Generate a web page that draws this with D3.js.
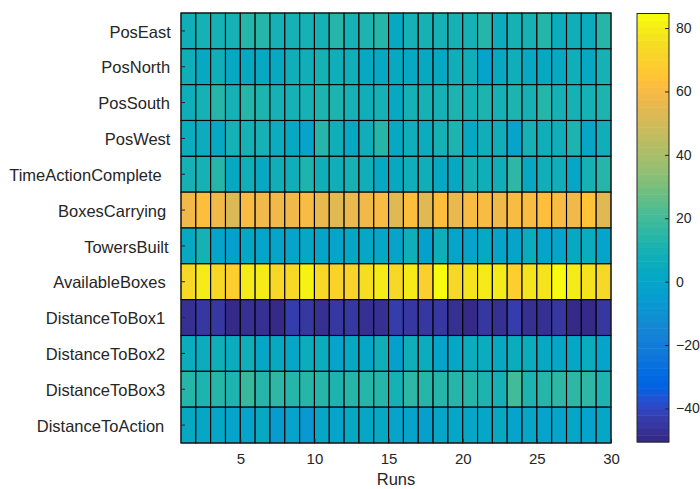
<!DOCTYPE html>
<html>
<head>
<meta charset="utf-8">
<script src="https://cdn.jsdelivr.net/npm/d3@7"></script>
<style>
  html, body { margin: 0; padding: 0; background: #fff; }
  svg { display: block; font-family: "Liberation Sans", Arial, Helvetica, sans-serif; }
</style>
</head>
<body>
<svg id="chart" width="700" height="489"></svg>
<script>
// Feature names, top to bottom
const features = ["PosEast", "PosNorth", "PosSouth", "PosWest", "TimeActionComplete",
  "BoxesCarrying", "TowersBuilt", "AvailableBoxes", "DistanceToBox1",
  "DistanceToBox2", "DistanceToBox3", "DistanceToAction"];

// Per-run values for each feature (29 cells spanning runs 1..30)
const posEast = [8, 10, 9, 10, 14, 13, 10, 10, 10, 10, 13, 10, 11, 14, 4, 10, 10, 9, 10, 10, 13, 6, 10, 10, 14, 6, 8, 6, 13];
const posNorth = [8, 4, 7, 3, 3, 4, 3, 7, 7, 10, 7, 8, 4, 4, 4, 3, 4, 3, 7, 8, 0, 4, 7, 4, 3, 4, 7, 3, 9];
const posSouth = [8, 10, 13, 10, 13, 12, 10, 10, 10, 12, 12, 9, 8, 10, 4, 10, 10, 9, 12, 10, 12, 9, 12, 10, 13, 9, 10, 9, 12];
const posWest = [5, 5, 4, 10, 10, 9, 5, 4, 0, 13, 7, 4, 8, 13, 4, 7, 5, 10, 12, 4, 7, 7, 0, 9, 7, 8, 12, 1, 8];
const timeActionComplete = [10, 9, 14, 3, 8, 4, 8, 8, 11, 7, 7, 9, 8, 4, 4, 7, 8, 3, 4, 10, 7, 8, 15, 3, 7, 7, 1, 10, 13];
const boxesCarrying = [58, 63, 58, 52, 60, 58, 58, 58, 60, 57, 54, 57, 58, 60, 54, 63, 53, 63, 57, 60, 60, 59, 60, 60, 62, 61, 59, 65, 53];
const towersBuilt = [3, 9, -1, -3, 2, 0, -1, -1, 1, -1, -1, 2, 2, 2, -1, 7, -3, 7, -1, 0, 3, 0, -1, 5, -1, 0, 3, 5, -1];
const availableBoxes = [74, 79, 74, 69, 79, 79, 74, 74, 82, 74, 70, 71, 76, 79, 74, 80, 69, 84, 74, 77, 79, 79, 69, 77, 78, 83, 79, 77, 74];
const distanceToBox1 = [-47, -46, -46, -49.5, -47, -47, -50, -43, -46, -47, -45, -45, -47, -47, -43, -46, -45, -46, -47, -50, -46, -47, -43, -47, -47, -46, -49, -49, -45];
const distanceToBox2 = [6, 6, 7, 6, 7, 2, 4, 2, 5, 5, 0, 3, 2, 7, -3, 7, 5, 0, 2, 5, 5, 4, 5, 5, 3, 1, 1, 6, 0];
const distanceToBox3 = [13, 12, 13, 11, 19, 13, 15, 14, 14, 13, 12, 13, 14, 13, 9, 15, 14, 13, 13, 14, 11, 10, 20, 12, 14, 15, 16, 16, 12];
const distanceToAction = [3, 2, 2, -1, -1, 3, -6, 0, -8, 1, 0, 3, 2, 3, -2, -2, -3, 2, 2, 2, 2, 3, -1, 2, 0, 0, 2, -2, 2];

const rows = [posEast, posNorth, posSouth, posWest, timeActionComplete, boxesCarrying,
  towersBuilt, availableBoxes, distanceToBox1, distanceToBox2, distanceToBox3, distanceToAction];

const xTicks = [5, 10, 15, 20, 25, 30];
const colorTicks = [-40, -20, 0, 20, 40, 60, 80];
const colorLimits = [-50.6, 84.6];

// 64-step parula colormap
const parula = [
  [0.2081,0.1663,0.5292],[0.2116,0.1898,0.5777],[0.2123,0.2138,0.6270],[0.2081,0.2386,0.6771],
  [0.1959,0.2645,0.7279],[0.1707,0.2919,0.7792],[0.1253,0.3242,0.8303],[0.0591,0.3598,0.8683],
  [0.0117,0.3875,0.8820],[0.0060,0.4086,0.8828],[0.0165,0.4266,0.8786],[0.0329,0.4430,0.8720],
  [0.0498,0.4586,0.8641],[0.0629,0.4737,0.8554],[0.0723,0.4887,0.8467],[0.0779,0.5040,0.8384],
  [0.0793,0.5200,0.8312],[0.0749,0.5375,0.8263],[0.0641,0.5570,0.8240],[0.0488,0.5772,0.8228],
  [0.0343,0.5966,0.8199],[0.0265,0.6137,0.8135],[0.0239,0.6287,0.8038],[0.0231,0.6418,0.7913],
  [0.0228,0.6535,0.7768],[0.0267,0.6642,0.7607],[0.0384,0.6743,0.7436],[0.0590,0.6838,0.7254],
  [0.0843,0.6928,0.7062],[0.1133,0.7015,0.6859],[0.1453,0.7098,0.6646],[0.1801,0.7177,0.6424],
  [0.2178,0.7250,0.6193],[0.2586,0.7317,0.5954],[0.3022,0.7376,0.5712],[0.3482,0.7424,0.5473],
  [0.3953,0.7459,0.5244],[0.4420,0.7481,0.5033],[0.4871,0.7491,0.4840],[0.5300,0.7491,0.4661],
  [0.5709,0.7485,0.4494],[0.6099,0.7473,0.4337],[0.6473,0.7456,0.4188],[0.6834,0.7435,0.4044],
  [0.7184,0.7411,0.3905],[0.7525,0.7384,0.3768],[0.7858,0.7356,0.3633],[0.8185,0.7327,0.3498],
  [0.8507,0.7299,0.3360],[0.8824,0.7274,0.3217],[0.9139,0.7258,0.3063],[0.9450,0.7261,0.2886],
  [0.9739,0.7314,0.2666],[0.9938,0.7455,0.2403],[0.9990,0.7653,0.2164],[0.9955,0.7861,0.1967],
  [0.9880,0.8066,0.1794],[0.9789,0.8271,0.1633],[0.9697,0.8481,0.1475],[0.9626,0.8705,0.1309],
  [0.9589,0.8949,0.1132],[0.9598,0.9218,0.0948],[0.9661,0.9514,0.0755],[0.9763,0.9831,0.0538]
].map(c => d3.rgb(c[0] * 255, c[1] * 255, c[2] * 255).formatHex());

const ink = "#262626";
const svg = d3.select("#chart");

const plot = { left: 181, right: 611, top: 13, bottom: 443 };

const x = d3.scaleLinear().domain([1, 30]).range([plot.left, plot.right]);
const y = d3.scaleBand().domain(features).range([plot.top, plot.bottom]);
const color = d3.scaleQuantize().domain(colorLimits).range(parula);

// Heatmap cells
const cells = [];
rows.forEach((vals, r) => vals.forEach((v, c) => cells.push({ feature: features[r], run: c + 1, value: v })));

svg.append("g").selectAll("rect")
  .data(cells)
  .join("rect")
  .attr("x", d => x(d.run))
  .attr("y", d => y(d.feature))
  .attr("width", d => x(d.run + 1) - x(d.run))
  .attr("height", y.bandwidth())
  .attr("fill", d => color(d.value))
  .attr("stroke", "#000")
  .attr("stroke-width", 1.1);

// Axes box
svg.append("rect")
  .attr("x", plot.left).attr("y", plot.top)
  .attr("width", plot.right - plot.left).attr("height", plot.bottom - plot.top)
  .attr("fill", "none").attr("stroke", ink).attr("stroke-width", 1);

// Y axis (feature names); long names get pushed a little further left
const yAxis = svg.append("g")
  .attr("transform", `translate(${plot.left},0)`)
  .call(d3.axisLeft(y).tickSize(-4).tickPadding(4));
yAxis.select(".domain").remove();
yAxis.selectAll("line").attr("stroke", ink);
yAxis.selectAll("text")
  .attr("fill", ink)
  .style("font-size", "16.5px")
  .attr("text-anchor", "start")
  .attr("dy", "0.4em")
  .attr("x", function () {
    const w = this.getComputedTextLength();
    return -4 - w * 1.1;
  });

// X axis (runs)
const xAxis = svg.append("g")
  .attr("transform", `translate(0,${plot.bottom})`)
  .call(d3.axisBottom(x).tickValues(xTicks).tickSize(-4).tickPadding(10));
xAxis.select(".domain").remove();
xAxis.selectAll("line").attr("stroke", ink);
xAxis.selectAll("text")
  .attr("fill", ink)
  .style("font-size", "15px");

svg.append("text")
  .attr("x", (plot.left + plot.right) / 2)
  .attr("y", 485)
  .attr("text-anchor", "middle")
  .attr("fill", ink)
  .style("font-size", "16.5px")
  .text("Runs");

// Colorbar
const cb = { left: 637, right: 669, top: 13.5, bottom: 442 };
const cy = d3.scaleLinear().domain(colorLimits).range([cb.bottom, cb.top]);
const step = (colorLimits[1] - colorLimits[0]) / parula.length;

svg.append("g").selectAll("rect")
  .data(parula)
  .join("rect")
  .attr("x", cb.left)
  .attr("width", cb.right - cb.left)
  .attr("y", (d, i) => cy(colorLimits[0] + (i + 1) * step))
  .attr("height", (d, i) => cy(colorLimits[0] + i * step) - cy(colorLimits[0] + (i + 1) * step) + 0.5)
  .attr("fill", d => d);

svg.append("rect")
  .attr("x", cb.left).attr("y", cb.top)
  .attr("width", cb.right - cb.left).attr("height", cb.bottom - cb.top)
  .attr("fill", "none").attr("stroke", ink).attr("stroke-width", 1);

const cAxis = svg.append("g")
  .attr("transform", `translate(${cb.right},0)`)
  .call(d3.axisRight(cy).tickValues(colorTicks).tickSize(-4).tickPadding(7));
cAxis.select(".domain").remove();
cAxis.selectAll("line").attr("stroke", ink);
cAxis.selectAll("text")
  .attr("fill", ink)
  .style("font-size", "14px");
</script>
</body>
</html>
